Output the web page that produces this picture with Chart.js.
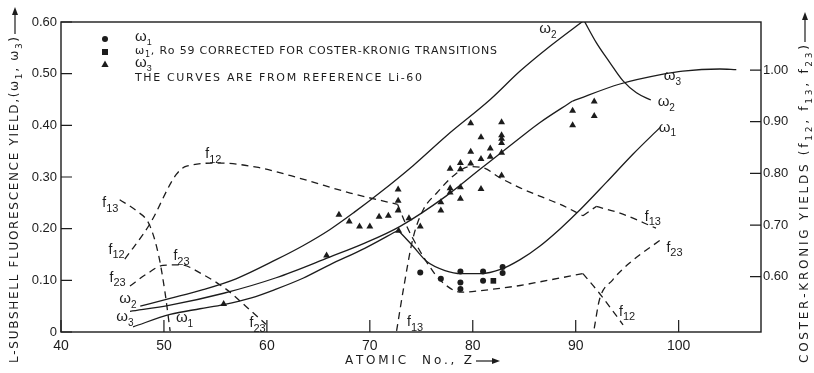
<!DOCTYPE html>
<html><head><meta charset="utf-8">
<script src="https://cdn.jsdelivr.net/npm/chart.js@4.4.1/dist/chart.umd.min.js"></script>
<style>html,body{margin:0;padding:0;background:#fff;}</style>
</head><body>
<canvas id="c" width="814" height="373"></canvas>
<script>
// ---------- tick labels ----------
const xTickValues = [40, 50, 60, 70, 80, 90, 100];
const leftTickValues = [0, 0.1, 0.2, 0.3, 0.4, 0.5, 0.6];
const rightTickValues = [0.6, 0.7, 0.8, 0.9, 1.0];

// ---------- fluorescence yield curves (left axis) ----------
const omega1CurveZ = [47.0, 50.6, 53.5, 55.8, 58.5, 60.9, 63.5, 66.1, 69.5, 72.75, 74.2, 75.5, 77.3, 78.9, 80.8, 82.7, 84.6, 86.5, 88.5, 90.4, 93.0, 95.6, 98.2];
const omega1CurveY = [0.010, 0.034, 0.045, 0.053, 0.066, 0.083, 0.104, 0.130, 0.162, 0.197, 0.166, 0.137, 0.119, 0.113, 0.113, 0.121, 0.140, 0.166, 0.200, 0.236, 0.290, 0.345, 0.396];
const omega1Breaks = [9];

const omega2CurveZ = [47.7, 50.6, 53.8, 57.0, 60.9, 63.5, 66.1, 68.5, 71.0, 74.2, 77.4, 81.7, 84.6, 87.5, 90.8, 92.0, 93.3, 94.6, 95.9, 97.3];
const omega2CurveY = [0.050, 0.065, 0.082, 0.103, 0.140, 0.167, 0.198, 0.232, 0.270, 0.322, 0.379, 0.450, 0.505, 0.553, 0.603, 0.560, 0.522, 0.486, 0.463, 0.449];
const omega2Breaks = [14];

const omega3CurveZ = [46.7, 50.6, 55.8, 60.9, 66.1, 69.5, 72.9, 77.4, 80.7, 84.6, 86.5, 89.7, 94.3, 98.5, 100.4, 104.0, 105.6];
const omega3CurveY = [0.040, 0.052, 0.075, 0.105, 0.145, 0.172, 0.204, 0.263, 0.315, 0.376, 0.405, 0.447, 0.480, 0.499, 0.505, 0.509, 0.508];
const omega3Breaks = [11];

// ---------- Coster-Kronig curves (right axis) ----------
const f12CurveZ = [46.2, 48.6, 51.2, 52.2, 55.3, 59.0, 63.3, 68.1, 72.7, 73.6, 74.6, 75.8, 76.8, 78.9, 80.7, 84.6, 86.5, 90.7, 92.3, 94.6];
const f12CurveF = [0.634, 0.701, 0.798, 0.814, 0.820, 0.812, 0.790, 0.762, 0.740, 0.697, 0.659, 0.620, 0.594, 0.570, 0.573, 0.583, 0.590, 0.606, 0.568, 0.507];
const f12Breaks = [8, 17];

const f13LowZ = [45.7, 47.3, 48.6, 49.5, 50.1, 50.6];
const f13LowF = [0.749, 0.728, 0.700, 0.640, 0.570, 0.495];
const f13HighZ = [72.6, 73.3, 74.2, 75.2, 76.5, 78.1, 79.7, 81.0, 82.6, 84.6, 86.5, 88.5, 90.7, 92.0, 94.3, 97.8];
const f13HighF = [0.495, 0.580, 0.675, 0.730, 0.762, 0.795, 0.813, 0.811, 0.792, 0.772, 0.756, 0.740, 0.718, 0.736, 0.723, 0.694];
const f13HighBreaks = [12, 13];

const f23LowZ = [46.7, 48.3, 49.9, 51.6, 53.8, 56.1, 58.0, 59.9];
const f23LowF = [0.582, 0.605, 0.622, 0.623, 0.604, 0.575, 0.542, 0.508];
const f23HighZ = [91.8, 92.3, 93.6, 95.2, 98.5];
const f23HighF = [0.500, 0.555, 0.594, 0.626, 0.675];

// ---------- measured points ----------
const omega1PointZ = [74.9, 76.9, 78.8, 78.8, 78.8, 81.0, 81.0, 82.9, 82.9];
const omega1PointY = [0.115, 0.103, 0.117, 0.096, 0.083, 0.117, 0.099, 0.126, 0.114];
const ro59PointZ = [82.0];
const ro59PointY = [0.099];
const omega3PointZ = [55.8, 65.8, 67.0, 68.0, 69.0, 70.0, 70.9, 71.8, 72.75, 72.75, 72.75, 72.8, 73.8, 74.9, 76.9, 76.9, 77.8, 77.8, 77.8, 78.8, 78.8, 78.8, 78.8, 79.8, 79.8, 79.8, 80.8, 80.8, 80.8, 81.7, 81.7, 82.8, 82.8, 82.8, 82.8, 82.8, 82.8, 89.7, 89.7, 91.8, 91.8];
const omega3PointY = [0.054, 0.148, 0.227, 0.214, 0.204, 0.204, 0.223, 0.225, 0.276, 0.254, 0.235, 0.196, 0.220, 0.204, 0.235, 0.251, 0.278, 0.270, 0.316, 0.327, 0.315, 0.280, 0.258, 0.326, 0.349, 0.404, 0.377, 0.335, 0.277, 0.355, 0.339, 0.406, 0.381, 0.374, 0.366, 0.347, 0.303, 0.428, 0.400, 0.446, 0.418];

// ---------- curve labels (data coordinates, left axis) ----------
const curveLabels = [
  ['ω', '2', 87.3, 0.586], ['ω', '3', 99.4, 0.495], ['ω', '2', 98.8, 0.445], ['ω', '1', 98.9, 0.396],
  ['f', '13', 97.5, 0.223], ['f', '23', 99.6, 0.163], ['f', '12', 95.0, 0.039], ['f', '13', 74.4, 0.019],
  ['f', '23', 59.1, 0.017], ['ω', '1', 52.0, 0.027], ['ω', '3', 46.2, 0.029], ['ω', '2', 46.5, 0.064],
  ['f', '23', 45.5, 0.105], ['f', '12', 45.4, 0.159], ['f', '13', 44.8, 0.249], ['f', '12', 54.8, 0.344],
  ['f', '23', 51.7, 0.146]
];

const INK = '#1c1c1c';
const FONT = '"Liberation Sans", Arial, sans-serif';
const TFONT = '"DejaVu Sans", "Liberation Sans", sans-serif';

function pts(zs, ys) { return zs.map((z, i) => ({ x: z, y: ys[i] })); }
function segments(zs, ys, breaks) {
  const out = []; let start = 0;
  for (const b of [...breaks, zs.length - 1]) {
    out.push(pts(zs.slice(start, b + 1), ys.slice(start, b + 1)));
    start = b;
  }
  return out;
}

const datasets = [];
function addCurve(segs, axis, dashed) {
  segs.forEach(seg => datasets.push({
    data: seg, yAxisID: axis, showLine: true, borderColor: INK, borderWidth: 1.3,
    borderDash: dashed ? [7, 5] : [], pointRadius: 0, cubicInterpolationMode: 'monotone', fill: false
  }));
}
addCurve(segments(omega1CurveZ, omega1CurveY, omega1Breaks), 'y', false);
addCurve(segments(omega2CurveZ, omega2CurveY, omega2Breaks), 'y', false);
addCurve(segments(omega3CurveZ, omega3CurveY, omega3Breaks), 'y', false);
addCurve(segments(f12CurveZ, f12CurveF, f12Breaks), 'y2', true);
addCurve(segments(f13LowZ, f13LowF, []), 'y2', true);
addCurve(segments(f13HighZ, f13HighF, f13HighBreaks), 'y2', true);
addCurve(segments(f23LowZ, f23LowF, []), 'y2', true);
addCurve(segments(f23HighZ, f23HighF, []), 'y2', true);

function addPoints(zs, ys, style, r) {
  datasets.push({ data: pts(zs, ys), yAxisID: 'y', showLine: false, pointStyle: style, pointRadius: r,
    pointBackgroundColor: INK, pointBorderColor: INK, pointBorderWidth: 0, borderColor: INK });
}
addPoints(omega1PointZ, omega1PointY, 'circle', 3);
addPoints(ro59PointZ, ro59PointY, 'rect', 4);
addPoints(omega3PointZ, omega3PointY, 'triangle', 4);

function drawRuns(ctx, runs, x, y, o) {
  const size = o.size, subSize = o.subSize || size * 0.72, fam = o.family || FONT;
  const items = [];
  for (const [t, isSub] of runs) for (const ch of t) items.push([ch, isSub]);
  const wOf = (c, s) => { ctx.font = `${s ? subSize : size}px ${fam}`; return ctx.measureText(c).width; };
  let natural = 0; items.forEach(([c, s]) => natural += wOf(c, s));
  let spacing = o.spacing || 0;
  if (o.width) spacing = (o.width - natural) / (items.length - 1);
  const total = natural + spacing * (items.length - 1);
  let cx = o.align === 'center' ? x - total / 2 : x;
  ctx.textBaseline = 'middle'; ctx.textAlign = 'left'; ctx.fillStyle = INK;
  for (const [c, s] of items) {
    const w = wOf(c, s);
    ctx.fillText(c, cx, y + (s ? size * 0.4 : 0));
    cx += w + spacing;
  }
  return cx - spacing;
}
function arrow(ctx, x1, y1, x2, y2) {
  const ang = Math.atan2(y2 - y1, x2 - x1);
  ctx.beginPath(); ctx.moveTo(x1, y1); ctx.lineTo(x2 - 5 * Math.cos(ang), y2 - 5 * Math.sin(ang)); ctx.stroke();
  ctx.beginPath();
  ctx.moveTo(x2, y2);
  ctx.lineTo(x2 - 8 * Math.cos(ang) + 3 * Math.sin(ang), y2 - 8 * Math.sin(ang) - 3 * Math.cos(ang));
  ctx.lineTo(x2 - 8 * Math.cos(ang) - 3 * Math.sin(ang), y2 - 8 * Math.sin(ang) + 3 * Math.cos(ang));
  ctx.closePath(); ctx.fill();
}

const decor = {
  id: 'decor',
  afterDatasetsDraw(chart) {
    const { ctx, chartArea: a, scales } = chart;
    const X = scales.x, Y = scales.y, Y2 = scales.y2;
    ctx.save();
    ctx.strokeStyle = INK; ctx.fillStyle = INK; ctx.lineWidth = 1.4;
    ctx.strokeRect(a.left, a.top, a.right - a.left, a.bottom - a.top);
    ctx.lineWidth = 1.2;
    ctx.beginPath();
    xTickValues.forEach(v => { const p = X.getPixelForValue(v); ctx.moveTo(p, a.bottom); ctx.lineTo(p, a.bottom - 12); });
    leftTickValues.forEach(v => { const p = Y.getPixelForValue(v); ctx.moveTo(a.left, p); ctx.lineTo(a.left + 11, p); });
    rightTickValues.forEach(v => { const p = Y2.getPixelForValue(v); ctx.moveTo(a.right, p); ctx.lineTo(a.right - 11, p); });
    ctx.stroke();

    // curve labels
    curveLabels.forEach(([b, s, z, v]) => {
      const isW = b === 'ω';
      drawRuns(ctx, [[b, false], [s, true]], X.getPixelForValue(z), Y.getPixelForValue(v),
        { size: isW ? 15 : 14, subSize: isW ? 10 : 11, align: 'center' });
    });

    // legend
    const lx = a.left + 44;
    ctx.beginPath(); ctx.arc(lx, a.top + 17, 3, 0, Math.PI * 2); ctx.fill();
    ctx.fillRect(lx - 3, a.top + 27, 6, 6);
    ctx.beginPath(); ctx.moveTo(lx, a.top + 38.5); ctx.lineTo(lx + 3.6, a.top + 45); ctx.lineTo(lx - 3.6, a.top + 45); ctx.closePath(); ctx.fill();
    drawRuns(ctx, [['ω', false], ['1', true]], lx + 30, a.top + 15, { size: 15, subSize: 9 });
    drawRuns(ctx, [['ω', false], ['1', true], [', Ro 59 CORRECTED FOR COSTER-KRONIG TRANSITIONS', false]], lx + 30, a.top + 29,
      { size: 11, subSize: 8, width: 362, family: TFONT });
    drawRuns(ctx, [['ω', false], ['3', true]], lx + 30, a.top + 41, { size: 15, subSize: 9 });
    drawRuns(ctx, [['THE CURVES ARE FROM REFERENCE Li-60', false]], lx + 30, a.top + 56, { size: 11, width: 287, family: TFONT });

    // x title
    ctx.lineWidth = 1.2;
    const xe = drawRuns(ctx, [['ATOMIC  No., Z', false]], 345, 361, { size: 12, width: 127, family: TFONT });
    arrow(ctx, xe + 4, 361, xe + 28, 361);

    // left title
    ctx.save(); ctx.translate(15, 363); ctx.rotate(-Math.PI / 2);
    const le = drawRuns(ctx, [['L-SUBSHELL FLUORESCENCE YIELD,(ω', false], ['1', true], [', ω', false], ['3', true], [')', false]], 0, 0,
      { size: 12, subSize: 9, width: 326, family: TFONT });
    arrow(ctx, le + 3, 0, 356, 0);
    ctx.restore();

    // right title
    ctx.save(); ctx.translate(805, 363); ctx.rotate(-Math.PI / 2);
    const re = drawRuns(ctx, [['COSTER-KRONIG YIELDS (f', false], ['12', true], [', f', false], ['13', true], [', f', false], ['23', true], [')', false]], 0, 0,
      { size: 12, subSize: 9, width: 318, family: TFONT });
    arrow(ctx, re + 3, 0, 351, 0);
    ctx.restore();
    ctx.restore();
  }
};

new Chart(document.getElementById('c'), {
  type: 'line',
  data: { datasets },
  plugins: [decor],
  options: {
    responsive: false, animation: false, devicePixelRatio: 1,
    layout: { padding: { top: 22, left: 0, right: 0, bottom: 0 } },
    plugins: { legend: { display: false }, tooltip: { enabled: false } },
    scales: {
      x: {
        type: 'linear', min: 40, max: 108,
        afterBuildTicks: s => { s.ticks = xTickValues.map(v => ({ value: v })); },
        afterFit: s => { s.height = 41; },
        grid: { display: false, drawTicks: false }, border: { display: false },
        ticks: { color: INK, padding: 6, font: { family: FONT, size: 14 }, maxRotation: 0, autoSkip: false, callback: v => String(v) }
      },
      y: {
        type: 'linear', position: 'left', min: 0, max: 0.6,
        afterBuildTicks: s => { s.ticks = leftTickValues.map(v => ({ value: v })); },
        afterFit: s => { s.width = 61; },
        grid: { display: false, drawTicks: false }, border: { display: false },
        ticks: { color: INK, padding: 4, font: { family: FONT, size: 13 }, autoSkip: false, callback: v => v === 0 ? '0' : v.toFixed(2) }
      },
      y2: {
        type: 'linear', position: 'right', min: 0.493, max: 1.093,
        afterBuildTicks: s => { s.ticks = rightTickValues.map(v => ({ value: v })); },
        afterFit: s => { s.width = 53; },
        grid: { display: false, drawTicks: false }, border: { display: false },
        ticks: { color: INK, padding: 2, font: { family: FONT, size: 13 }, autoSkip: false, callback: v => v.toFixed(2) }
      }
    }
  }
});
</script>
</body></html>
